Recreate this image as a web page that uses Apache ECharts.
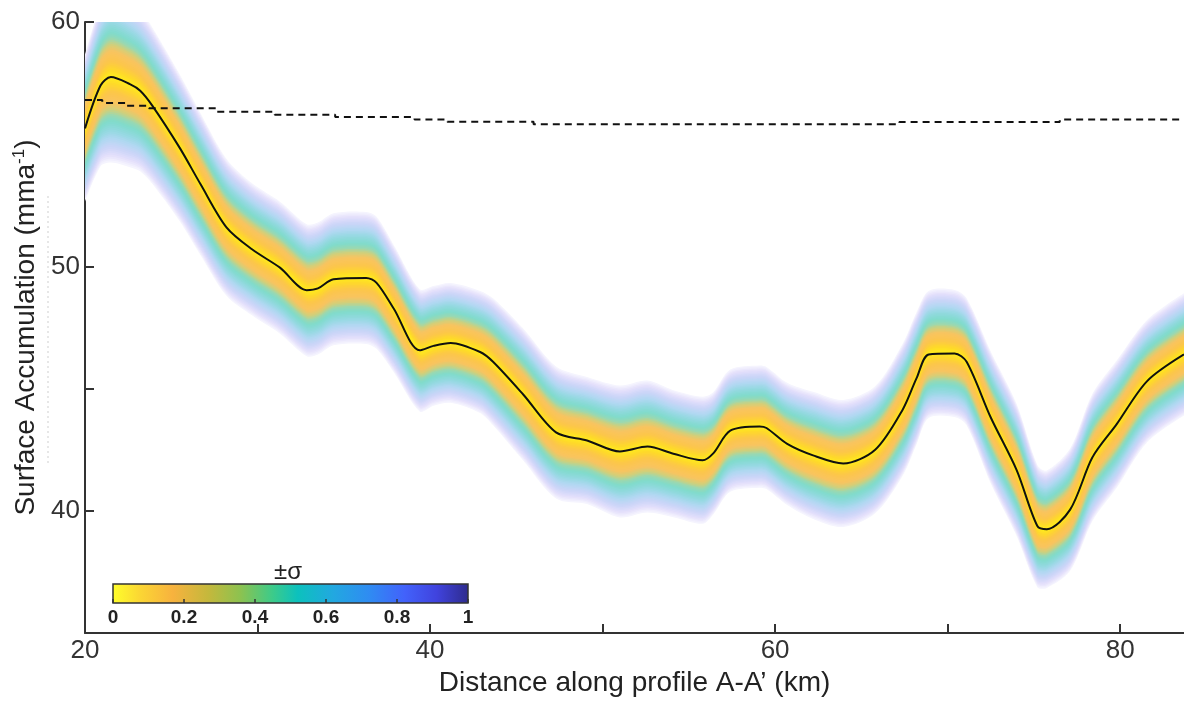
<!DOCTYPE html>
<html><head><meta charset="utf-8">
<script src="https://cdn.jsdelivr.net/npm/echarts@6/dist/echarts.min.js"></script>
<style>html,body{margin:0;padding:0;background:#fff}#c{width:1184px;height:702px}</style>
</head><body><div id="c"></div>
<script>
// ---- data ----
const distKm = [20, 20.9, 21.5, 22.6, 23.2, 23.9, 25.5, 26.7, 28.2, 29.7, 31.3, 32.85, 33.5, 34.4, 36.3, 36.9, 37.9, 39.4, 40.2, 41.2, 42.9, 43.65, 45.4, 47.3, 49.1, 51.0, 52.6, 54.1, 55.8, 56.4, 57.4, 59.1, 59.5, 60.7, 62.2, 63.95, 65.8, 67.4, 68.2, 68.9, 70.4, 71.1, 72.5, 74.0, 75.2, 75.75, 77.1, 78.4, 79.8, 81.55, 83.7];
const accumulation = [55.65, 57.4, 57.75, 57.46, 57.19, 56.58, 54.84, 53.36, 51.6, 50.69, 49.95, 49.03, 49.1, 49.48, 49.53, 49.33, 48.27, 46.57, 46.75, 46.87, 46.5, 46.1, 44.76, 43.21, 42.88, 42.43, 42.63, 42.34, 42.07, 42.34, 43.28, 43.45, 43.39, 42.74, 42.27, 41.94, 42.5, 44.15, 45.43, 46.4, 46.44, 46.1, 43.82, 41.67, 39.38, 39.25, 40.05, 42.2, 43.55, 45.3, 46.4];
const sigma = [3.0, 3.3, 3.5, 3.4, 3.3, 3.2, 3.0, 2.9, 2.8, 2.7, 2.7, 2.7, 2.7, 2.7, 2.7, 2.7, 2.6, 2.5, 2.45, 2.45, 2.5, 2.6, 2.7, 2.7, 2.6, 2.7, 2.7, 2.6, 2.6, 2.5, 2.5, 2.5, 2.5, 2.5, 2.6, 2.6, 2.6, 2.7, 2.7, 2.6, 2.6, 2.6, 2.7, 2.7, 2.5, 2.4, 2.5, 2.6, 2.6, 2.5, 2.5];
const refKm = [20, 21, 22.4, 23.7, 27.6, 31, 34.5, 39.1, 41, 46, 67.2, 76.5, 83.7];
const refAccum = [56.81, 56.69, 56.57, 56.47, 56.33, 56.21, 56.11, 56.01, 55.92, 55.82, 55.91, 56.01, 56.01];
const colorbarTicks = [0, 0.2, 0.4, 0.6, 0.8, 1];
const xTicks = [20, 30, 40, 50, 60, 70, 80];
const xLabelTicks = [20, 40, 60, 80];
const yLabelTicks = [40, 50, 60];

// ---- styling ----
const bandStops = [[0,'#ffec1c'],[0.08,'#fed92a'],[0.18,'#fcc64a'],[0.3,'#f9c460'],[0.38,'#cfd07c'],[0.45,'#97d9b4'],[0.52,'#80dbcc'],[0.62,'#93d9e0'],[0.72,'#b1d8f2'],[0.82,'#cbd5f8'],[0.91,'#e2defb'],[1,'#f8f7fe']];
const colorbarStops = [[0,'#ffff2a'],[0.08,'#fbd534'],[0.17,'#f7b23e'],[0.27,'#c4b83c'],[0.36,'#8cc250'],[0.45,'#3ccb8a'],[0.52,'#0cc1bd'],[0.62,'#22a8e0'],[0.72,'#2f8cf2'],[0.82,'#4262fb'],[0.91,'#4043de'],[1,'#2e2b8c']];

function hex(c){return [parseInt(c.slice(1,3),16),parseInt(c.slice(3,5),16),parseInt(c.slice(5,7),16)];}
function colorAt(stops,t){
  for(let i=0;i<stops.length-1;i++){
    const [a,ca]=stops[i],[b,cb]=stops[i+1];
    if(t>=a&&t<=b){const u=(t-a)/(b-a),x=hex(ca),y=hex(cb);
      return 'rgb('+x.map((v,j)=>Math.round(v+(y[j]-v)*u)).join(',')+')';}
  }
  return stops[stops.length-1][1];
}

const FONT = "'Liberation Sans', Arial, sans-serif";
const LAYERS = 44;
const SMOOTH = 0.3;
const layerFractions = [];
for(let k=0;k<LAYERS;k++) layerFractions.push(1 - k/LAYERS);

// same control-point rule ECharts uses for smooth lines, applied in pixel space
function smoothSegs(pts, s, start){
  const n = pts.length, cin = [], cout = [];
  for(let i=0;i<n;i++){
    const cur = pts[i];
    if(i===0||i===n-1){cin[i]=cout[i]=cur;continue;}
    const prev=pts[i-1], next=pts[i+1];
    const vx=next[0]-prev[0], vy=next[1]-prev[1];
    const l0=Math.hypot(cur[0]-prev[0],cur[1]-prev[1]), l1=Math.hypot(next[0]-cur[0],next[1]-cur[1]);
    const r = l1/((l0+l1)||1);
    cout[i]=[cur[0]+vx*s*r, cur[1]+vy*s*r];
    cin[i]=[cur[0]-vx*s*(1-r), cur[1]-vy*s*(1-r)];
  }
  let d = (start?'M':'L') + pts[0][0].toFixed(2)+' '+pts[0][1].toFixed(2);
  for(let i=1;i<n;i++){
    d += 'C'+cout[i-1][0].toFixed(2)+' '+cout[i-1][1].toFixed(2)+' '+cin[i][0].toFixed(2)+' '+cin[i][1].toFixed(2)+' '+pts[i][0].toFixed(2)+' '+pts[i][1].toFixed(2);
  }
  return d;
}

function renderBand(params, api){
  const f = layerFractions[params.dataIndex];
  const col = colorAt(bandStops, Math.max(0, f - 0.5/LAYERS));
  const top = distKm.map((x,i)=>api.coord([x, accumulation[i] + f*sigma[i]]));
  const bot = distKm.map((x,i)=>api.coord([x, accumulation[i] - f*sigma[i]])).reverse();
  const d = smoothSegs(top, SMOOTH, true) + smoothSegs(bot, SMOOTH, false) + 'Z';
  return {type:'path', shape:{pathData:d}, style:{fill:col, stroke:null}, silent:true};
}

const series = [
  {type:'custom', name:'band', xAxisIndex:0, yAxisIndex:0, clip:true, silent:true, z:1,
   renderItem: renderBand, encode:{x:0, y:1},
   data: layerFractions.map(f=>[distKm[0], accumulation[0], f])},
  {type:'line', name:'reference', xAxisIndex:0, yAxisIndex:0, step:'end', symbol:'none', silent:true,
   lineStyle:{color:'#111', width:2, type:[7,5]}, data: refKm.map((x,i)=>[x, refAccum[i]]), z:4},
  {type:'line', name:'mean', xAxisIndex:0, yAxisIndex:0, symbol:'none', smooth:SMOOTH, silent:true,
   lineStyle:{color:'#111', width:2}, data: distKm.map((x,i)=>[x, accumulation[i]]), z:5}
];

const cbGradient = new echarts.graphic.LinearGradient(0,0,1,0, colorbarStops.map(s=>({offset:s[0], color:s[1]})));

const option = {
  animation:false,
  backgroundColor:'#fff',
  grid:[
    {left:85, top:22, right:0, bottom:60, containLabel:false},
    {left:113, top:584, width:355, height:19, show:true, backgroundColor:cbGradient, borderColor:'#333', borderWidth:1.5, z:10}
  ],
  xAxis:[
    {type:'value', gridIndex:0, min:20, max:83.7, interval:10,
     name:'Distance along profile A-A\u2019 (km)', nameLocation:'middle', nameGap:27,
     nameTextStyle:{fontFamily:FONT, fontSize:28, color:'#222'},
     axisLine:{show:true, lineStyle:{color:'#333', width:2}},
     axisTick:{show:true, inside:true, length:9, customValues:xTicks, lineStyle:{color:'#333', width:2}},
     axisLabel:{fontFamily:FONT, fontSize:26, color:'#333', margin:5, customValues:xLabelTicks,
       formatter:v=> String(v)},
     splitLine:{show:false}},
    {type:'value', gridIndex:1, min:0, max:1, interval:0.2, z:11,
     axisLine:{show:false}, splitLine:{show:false},
     axisTick:{show:true, inside:true, length:4, lineStyle:{color:'#333', width:1.5}},
     axisLabel:{fontFamily:FONT, fontSize:19, fontWeight:'bold', color:'#222', margin:5,
       formatter:v=> colorbarTicks.indexOf(+v.toFixed(2))>=0 ? String(+v.toFixed(2)) : ''}}
  ],
  yAxis:[
    {type:'value', gridIndex:0, min:35, max:60, interval:5,
     name:'Surface Accumulation (mma{sup|-1})', nameLocation:'middle', nameGap:43,
     nameTextStyle:{fontFamily:FONT, fontSize:28, color:'#222',
       rich:{sup:{fontFamily:FONT, fontSize:17, color:'#222', padding:[0,0,14,0]}}},
     axisLine:{show:true, lineStyle:{color:'#333', width:2}},
     axisTick:{show:true, inside:true, length:9, lineStyle:{color:'#333', width:2}},
     axisLabel:{fontFamily:FONT, fontSize:26, color:'#333', margin:5,
       formatter:v=> yLabelTicks.indexOf(v)>=0 ? String(v) : ''},
     splitLine:{show:false}},
    {type:'value', gridIndex:1, min:0, max:1, show:false}
  ],
  graphic:[
    {type:'text', left:274, top:560, z:20, style:{text:'\u00b1\u03c3', fontFamily:FONT, fontSize:24, fill:'#222'}},
    {type:'line', z:0, shape:{x1:48, y1:196, x2:48, y2:463}, style:{stroke:'#cfcfcf', lineWidth:1, lineDash:[2,3]}}
  ],
  series
};
const chart = echarts.init(document.getElementById('c'), null, {renderer:'canvas'});
chart.setOption(option);
</script></body></html>
